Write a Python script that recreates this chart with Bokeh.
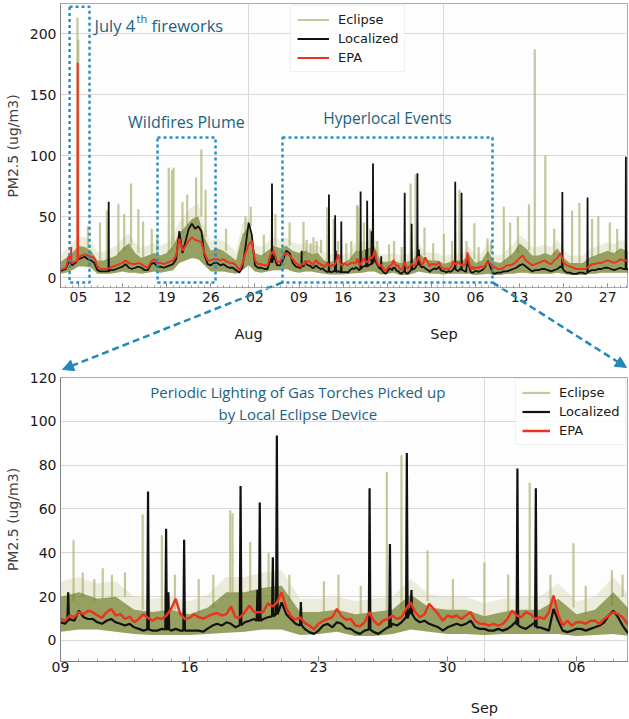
import numpy as np
import pandas as pd
from bokeh.plotting import figure
from bokeh.layouts import column
from bokeh.models import (ColumnDataSource, Range1d, FixedTicker, DatetimeAxis,
                          DatetimeTickFormatter, BoxAnnotation, Label, Arrow,
                          NormalHead, Legend, LegendItem)
from bokeh.embed import file_html
from bokeh.resources import INLINE

# ---------------- data: PM2.5 (ug/m3) ----------------
# EPA and Localized, 12-hourly from 2020-07-02 00:00 to 2020-08-08 12:00
epa_jul = [6, 7, 8, 18, 12, 13, 17, 18, 19, 18, 17, 16, 9, 7, 7, 7, 8, 9, 10, 11,
           12, 14, 12, 11, 11, 12, 11, 9, 8, 13, 15, 12, 12, 11, 12, 13, 14, 18, 32, 22,
           26, 30, 33, 31, 30, 29, 20, 14, 14, 15, 15, 14, 15, 13, 12, 12, 10, 6, 11, 20,
           27, 30, 14, 11, 11, 10, 10, 19, 22, 13, 13, 18, 20, 18, 15, 12]
loc_jul = [5, 6, 7, 14, 10, 12, 15, 16, 17, 15, 14, 12, 6, 5, 5, 5, 6, 6, 7, 8,
           9, 11, 8, 7, 8, 9, 8, 6, 6, 11, 12, 9, 9, 8, 9, 10, 11, 15, 38, 20,
           30, 40, 44, 40, 42, 38, 18, 11, 10, 12, 12, 10, 11, 9, 8, 8, 6, 4, 8, 25,
           45, 35, 10, 8, 8, 7, 7, 16, 18, 10, 10, 15, 22, 20, 12, 9]
# 6-hourly from 2020-08-09 00:00 to 2020-09-08 18:00 (detail window)
epa_aug = [9.8, 9, 11.4, 10.6, 12.9, 12, 13.6, 12.9, 11.4, 10.3, 12.9, 14.4,
           11.4, 12, 9.8, 10.9, 8.3, 9.8, 12, 10.3, 9, 10.3, 9.8, 11.4,
           14.4, 19, 12, 9.8, 10.3, 12, 10.6, 10, 11, 12, 12.5, 11.4,
           12, 15.5, 10.5, 10.6, 12.9, 16, 13, 12.9, 12.9, 17, 15.5, 17.4,
           22, 15, 11, 9.5, 10.6, 8, 6.8, 5, 7.6, 9, 9.8, 10.6,
           14.4, 11, 9.5, 9.8, 6.8, 6.5, 8.3, 12.9, 9, 7, 9, 9.8,
           11.4, 9.8, 10.6, 14.4, 17.4, 12.9, 10.6, 12, 16.7, 14.4, 12, 9,
           11.4, 10.6, 11.4, 9.8, 11.4, 12.9, 9, 7.6, 7.6, 6.8, 7.6, 6.8,
           7.6, 9.8, 13.6, 11.4, 10.6, 12.9, 12, 9.8, 10.6, 9.8, 12.9, 20.5,
           12, 6.8, 9, 6.8, 8.3, 8.3, 7.6, 9, 9, 7.6, 9.8, 11.4,
           12.9, 12, 10.6, 7.6]
loc_aug = [8.3, 7.6, 9.8, 9, 13.6, 10.6, 9.8, 9.8, 8.3, 7.6, 9, 9.8,
           8.3, 7.6, 6.8, 7.6, 6, 5.3, 4.5, 5.3, 4.5, 4.5, 5.3, 6,
           4.5, 5.3, 4.5, 4.5, 4.5, 4.5, 4.5, 4, 5.5, 6.8, 7.6, 6.8,
           8.3, 7.6, 6, 7.6, 8.3, 9, 9.8, 9, 9.8, 10.6, 12.9, 13.6,
           17.4, 12, 9.8, 7.6, 6.8, 5.3, 3.8, 3, 4.5, 6.8, 7.6, 6,
           8.3, 7.6, 5.5, 5.3, 3.8, 3, 4.5, 5, 3.8, 3, 4.5, 6,
           7.6, 6.8, 8.3, 10.6, 15, 9.8, 8.3, 9, 7.6, 6.8, 6, 4.5,
           6, 6.8, 7.6, 6.8, 7.6, 9, 6, 5.3, 5.3, 4.5, 4.5, 5.3,
           4.5, 5.3, 6.8, 9, 6, 5.3, 6.8, 8.3, 6, 5.3, 4.5, 14.4,
           9, 4.5, 3.8, 4.5, 5.3, 5.3, 4.5, 5.3, 6, 6.8, 8.3, 11.4,
           13.6, 10.6, 6.8, 3.8]
# 12-hourly from 2020-09-09 00:00 to 2020-10-01 00:00
epa_sep = [9, 7, 7, 8, 10, 10, 11, 13, 16, 18, 14, 12, 10, 11, 12, 13, 14, 12, 11, 14,
           16, 20, 12, 10, 9, 8, 7, 7, 7, 7, 9, 11, 11, 12, 12, 13, 14, 13, 12, 13,
           15, 14, 14, 13, 13]
loc_sep = [3, 4, 4, 5, 5, 6, 7, 8, 10, 11, 9, 7, 5, 6, 6, 7, 7, 6, 5, 6,
           7, 9, 6, 4, 4, 3, 3, 4, 4, 3, 5, 6, 6, 7, 7, 8, 8, 7, 6, 7,
           8, 7, 7, 6, 6]

# Eclipse network spread, daily from 2020-07-02 to 2020-10-01
ecl_lo = [3, 4, 6, 9, 9, 8, 3, 3, 3, 4, 5, 4, 4, 3, 4, 5, 4, 5, 6, 12, 14, 16, 15, 10, 5, 5, 5, 4, 3, 6,
          10, 5, 4, 5, 6, 6, 7, 5, 4, 5, 5, 4, 3, 2.5, 2.5, 2.5, 3, 3.5, 4, 5, 5, 2.5, 3, 4, 2, 2, 3, 5, 4, 3, 3,
          2.5, 3, 3, 3, 3, 2, 2.5, 3, 2, 2, 3, 3, 4, 4, 3, 3, 3, 3, 4, 3, 2, 2, 2, 3, 3, 4, 4, 4, 4, 4,
          4]
ecl_hi = [12, 16, 20, 26, 25, 22, 14, 14, 16, 18, 24, 28, 20, 16, 18, 20, 18, 20, 26, 36, 42, 48, 50, 33, 22, 24, 22, 18, 14, 35,
          42, 20, 18, 22, 26, 24, 26, 22, 20, 22, 19, 20, 14, 13, 14, 12, 15, 22, 22, 24, 25, 13, 13, 14, 12, 13, 14, 21, 15, 14, 14,
          11, 13, 14, 14, 19, 12, 14, 22, 13, 12, 16, 20, 28, 24, 18, 18, 20, 18, 24, 16, 12, 12, 12, 16, 18, 20, 22, 20, 24, 22,
          20]
ecl_top = [18, 23, 28, 34, 33, 30, 21, 21, 24, 26, 32, 36, 28, 24, 26, 28, 26, 28, 34, 46, 52, 58, 60, 42, 30, 32, 30, 26, 21, 44,
           50, 27, 25, 29, 33, 31, 33, 29, 27, 29, 26, 27, 20, 19, 20, 18, 21, 29, 29, 31, 32, 19, 19, 20, 18, 19, 20, 28, 21, 20, 20,
           17, 19, 20, 20, 26, 18, 20, 29, 19, 18, 23, 27, 35, 31, 25, 25, 27, 25, 31, 23, 18, 18, 18, 23, 25, 27, 29, 27, 31, 29,
           27]

# short events (time, peak, level around it)
loc_spike_time = ["2020-07-09 19:00", "2020-08-04 17:00", "2020-08-09 10:00", "2020-08-13 18:00",
                  "2020-08-14 17:30", "2020-08-14 20:30", "2020-08-15 17:00", "2020-08-18 18:30",
                  "2020-08-19 16:30", "2020-08-19 19:30", "2020-08-20 12:30", "2020-08-20 17:45",
                  "2020-08-22 01:00", "2020-08-25 18:30", "2020-08-26 21:00", "2020-08-27 19:00",
                  "2020-08-28 01:00", "2020-09-02 19:00", "2020-09-03 19:00", "2020-09-19 19:00",
                  "2020-09-23 19:00", "2020-09-29 21:00"]
loc_spike_peak = [62, 77, 22, 68, 51, 22, 46, 70.5, 23, 63, 38, 93.5, 17.5, 69.5, 44, 85.5, 23,
                  78.5, 69.5, 70, 65.5, 99]
loc_spike_base = [5, 12, 9, 5, 5, 5, 4.5, 7, 9, 9, 11, 12, 7, 5, 6, 10, 12, 7, 6, 8, 4, 7]

epa_spike_time = ["2020-07-03 20:00", "2020-07-04 21:00"]
epa_spike_peak = [25, 176]
epa_spike_base = [12, 14]

ecl_spike_time = ["2020-07-04 20:00", "2020-07-04 23:00", "2020-07-06 12:00", "2020-07-08 10:00",
                  "2020-07-09 12:00", "2020-07-11 08:00", "2020-07-12 06:00", "2020-07-13 08:00",
                  "2020-07-14 12:00", "2020-07-15 06:00", "2020-07-16 15:00", "2020-07-17 12:00",
                  "2020-07-19 08:00", "2020-07-19 20:00", "2020-07-20 02:00", "2020-07-21 12:00",
                  "2020-07-22 06:00", "2020-07-23 16:00", "2020-07-24 12:00", "2020-07-25 04:00",
                  "2020-07-28 10:00", "2020-07-31 12:00", "2020-08-01 08:00", "2020-08-03 10:00",
                  "2020-08-05 06:00", "2020-08-07 12:00",
                  "2020-08-09 17:00", "2020-08-10 05:00", "2020-08-10 20:00", "2020-08-11 07:00",
                  "2020-08-11 19:00", "2020-08-12 12:00", "2020-08-13 11:00", "2020-08-14 12:00",
                  "2020-08-15 05:00", "2020-08-16 12:00", "2020-08-17 07:00", "2020-08-18 05:00",
                  "2020-08-18 08:00", "2020-08-19 07:00", "2020-08-20 07:00", "2020-08-21 10:00",
                  "2020-08-23 07:00", "2020-08-24 02:00", "2020-08-25 07:00", "2020-08-26 17:00",
                  "2020-08-27 12:00", "2020-08-28 22:00", "2020-08-30 07:00", "2020-09-01 00:00",
                  "2020-09-02 07:00", "2020-09-03 11:00", "2020-09-04 14:00", "2020-09-05 20:00",
                  "2020-09-06 12:00", "2020-09-07 22:00", "2020-09-08 12:00",
                  "2020-09-10 12:00", "2020-09-11 12:00", "2020-09-12 18:00", "2020-09-14 12:00",
                  "2020-09-15 10:00", "2020-09-17 02:00", "2020-09-18 12:00", "2020-09-21 08:00",
                  "2020-09-22 12:00", "2020-09-24 12:00", "2020-09-25 12:00", "2020-09-27 08:00",
                  "2020-09-28 12:00", "2020-09-30 06:00"]
ecl_spike_peak = [213, 195, 42, 45, 55, 60, 52, 77, 56, 46, 40, 35, 90, 88, 90, 62, 68, 82, 105, 72,
                  40, 50, 58, 35, 52, 45,
                  45.7, 31, 28, 33, 30, 31, 57.5, 48, 30, 28, 30, 59.4, 58, 45, 40, 30, 27, 30, 25,
                  77, 84.5, 41, 28, 35.6, 30, 72, 30, 44.4, 25, 32, 30,
                  58, 45, 50, 60, 187, 100, 40, 55, 61, 48, 50, 45, 40, 42]
ecl_spike_base = [25, 25, 24, 14, 14, 18, 22, 26, 20, 16, 18, 20, 20, 22, 26, 36, 42, 48, 50, 33,
                  22, 35, 42, 18, 26, 26,
                  18, 20, 18, 19, 19, 20, 14, 13, 14, 12, 15, 22, 22, 22, 24, 18, 13, 14, 12,
                  13, 14, 18, 14, 11, 13, 14, 14, 15, 12, 16, 20,
                  12, 16, 20, 22, 18, 20, 18, 12, 12, 16, 18, 22, 20, 22]

# axis ticks
top_day_ticks = ["2020-07-05", "2020-07-12", "2020-07-19", "2020-07-26", "2020-08-02",
                 "2020-08-09", "2020-08-16", "2020-08-23", "2020-08-30", "2020-09-06",
                 "2020-09-13", "2020-09-20", "2020-09-27"]
top_month_ticks = ["2020-08-01", "2020-09-01"]
bot_day_ticks = ["2020-08-09", "2020-08-16", "2020-08-23", "2020-08-30", "2020-09-06"]
bot_month_ticks = ["2020-09-01"]
top_y_ticks = [0, 50, 100, 150, 200]
bot_y_ticks = [0, 20, 40, 60, 80, 100, 120]

# ---------------- helpers ----------------
def ms(s):
    return pd.Timestamp(s).value / 1e6


def ms_list(seq):
    return list(pd.DatetimeIndex(pd.to_datetime(seq)).asi8 / 1e6)


t_jul = pd.date_range("2020-07-02", periods=len(epa_jul), freq="12h")
t_aug = pd.date_range("2020-08-09", periods=len(epa_aug), freq="6h")
t_sep = pd.date_range("2020-09-09", periods=len(epa_sep), freq="12h")
t_all = np.concatenate([t_jul.asi8, t_aug.asi8, t_sep.asi8]) / 1e6
t_day = pd.date_range("2020-07-02", periods=len(ecl_lo), freq="D").asi8 / 1e6


def with_spikes(t, vals, sp_t, sp_pk, sp_b, half_hours):
    t = np.asarray(t, float)
    v = np.asarray(vals, float)
    st = np.asarray(ms_list(sp_t))
    w = half_hours * 3600e3
    keep = np.ones(len(t), bool)
    for s in st:
        keep &= np.abs(t - s) >= w
    xs = list(t[keep])
    ys = list(v[keep])
    for s, pk, b in zip(st, sp_pk, sp_b):
        xs += [s - w, s, s + w]
        ys += [b, pk, b]
    o = np.argsort(np.asarray(xs), kind="stable")
    return np.asarray(xs)[o], np.asarray(ys)[o]


ex, ey = with_spikes(t_all, epa_jul + epa_aug + epa_sep, epa_spike_time, epa_spike_peak, epa_spike_base, 1.0)
lx, ly = with_spikes(t_all, loc_jul + loc_aug + loc_sep, loc_spike_time, loc_spike_peak, loc_spike_base, 1.0)
src_epa = ColumnDataSource(dict(x=ex, y=ey))
src_loc = ColumnDataSource(dict(x=lx, y=ly))
src_band = ColumnDataSource(dict(x=t_day, lo=ecl_lo, hi=ecl_hi, top=ecl_top))
src_espk = ColumnDataSource(dict(x=ms_list(ecl_spike_time), y0=ecl_spike_base, y1=ecl_spike_peak))

# ---------------- layout (page pixels, origin at 0,0) ----------------
W = 628
BL = 60
TOP_H = 288          # frame 3 .. 288
MID_H = 83           # 288 .. 371 : tick labels of the top panel + connecting arrows
BOT_H = 347          # 371 .. 718 : frame 377 .. 661
TOP_Y0, TOP_Y1 = 3, 288
MID_Y0, MID_Y1 = TOP_H, TOP_H + MID_H
BOT_Y0, BOT_Y1 = MID_Y1 + 6, 661
FX0, FX1 = BL, W

TXT = "#1b6282"
BOXC = "#2a8fc2"
ARRC = "#2288b8"
RED = "#eb3420"
BLK = "#111111"
TICKFONT = "DejaVu Sans"


def fmt(f):
    return DatetimeTickFormatter(microseconds=f, milliseconds=f, seconds=f, minsec=f,
                                 minutes=f, hourmin=f, hours=f, days=f, months=f, years=f)


def style_labels(ax, size="14px"):
    ax.major_label_text_font = TICKFONT
    ax.major_label_text_font_size = size
    ax.major_label_text_color = "#1a1a1a"


def daily(xr):
    return list(pd.date_range(pd.Timestamp(xr.start * 1e6).ceil("D"),
                              pd.Timestamp(xr.end * 1e6), freq="D").asi8 / 1e6)


def make_panel(h, bt, bb, xr, yr, day_ticks, month_ticks, yticks):
    p = figure(width=W, height=h, x_axis_type="datetime", x_range=xr, y_range=yr,
               output_backend="svg", toolbar_location=None,
               min_border_left=BL, min_border_right=0, min_border_top=bt, min_border_bottom=bb)
    p.background_fill_color = "#fdfdfd"
    p.border_fill_color = "white"
    p.outline_line_color = "#aaaaaa"
    xa = p.xaxis[0]
    xa.ticker = FixedTicker(ticks=ms_list(day_ticks), minor_ticks=daily(xr))
    xa.formatter = fmt("%d")
    xa.major_tick_in, xa.major_tick_out = 5, 0
    xa.minor_tick_in, xa.minor_tick_out = 3, 0
    xa.axis_line_color = "#808080"
    xa.major_tick_line_color = "#808080"
    xa.minor_tick_line_color = "#9a9a9a"
    style_labels(xa)
    ya = p.yaxis[0]
    ya.ticker = FixedTicker(ticks=yticks)
    ya.major_tick_in, ya.major_tick_out = 0, 0
    ya.minor_tick_line_color = None
    ya.major_label_standoff = 4
    ya.axis_line_color = "#808080"
    ya.axis_label = "PM2.5 (ug/m3)"
    ya.axis_label_text_font = TICKFONT
    ya.axis_label_text_font_size = "14px"
    ya.axis_label_text_font_style = "normal"
    ya.axis_label_standoff = 6
    style_labels(ya)
    p.xgrid[0].ticker = FixedTicker(ticks=ms_list(month_ticks))
    p.ygrid[0].ticker = FixedTicker(ticks=yticks)
    for g in (p.xgrid[0], p.ygrid[0]):
        g.grid_line_color = "#dcd8d8"
        g.grid_line_width = 1
    return p


def month_axis(month_ticks, standoff, fixed=None):
    ma = DatetimeAxis(ticker=FixedTicker(ticks=ms_list(month_ticks), minor_ticks=[]),
                      formatter=fmt("%b"), fixed_location=fixed)
    ma.axis_line_color = None
    ma.major_tick_line_color = None
    ma.minor_tick_line_color = None
    ma.major_label_standoff = standoff
    style_labels(ma, "14.5px")
    return ma


def draw_series(p, lw_loc, lw_epa):
    p.varea(x="x", y1="lo", y2="top", source=src_band, fill_color="#bcc283", fill_alpha=0.27)
    r_e = p.segment(x0="x", y0="y0", x1="x", y1="y1", source=src_espk, line_color="#b0b67a",
                    line_alpha=0.75, line_width=2.2)
    p.varea(x="x", y1="lo", y2="hi", source=src_band, fill_color="#6a7a22", fill_alpha=0.66)
    r_l = p.line(x="x", y="y", source=src_loc, line_color=BLK, line_width=lw_loc)
    r_r = p.line(x="x", y="y", source=src_epa, line_color=RED, line_width=lw_epa)
    return [r_e, r_l, r_r]


def add_legend(p, rs, location, glyph_w):
    leg = Legend(items=[LegendItem(label="Eclipse", renderers=[rs[0]]),
                        LegendItem(label="Localized", renderers=[rs[1]]),
                        LegendItem(label="EPA", renderers=[rs[2]])],
                 location=location)
    leg.label_text_font = TICKFONT
    leg.label_text_font_size = "13px"
    leg.label_text_color = "#1a1a1a"
    leg.glyph_width = glyph_w
    leg.glyph_height = 15
    leg.spacing = 4
    leg.padding = 6
    leg.margin = 0
    leg.label_standoff = 9
    leg.border_line_color = "#e2e2e2"
    leg.background_fill_alpha = 0.85
    p.add_layout(leg)


def lab(p, x, y, text, size, align="left", baseline="alphabetic", xo=0, yo=0):
    p.add_layout(Label(x=ms(x), y=y, text=text, text_font="Open Sans", text_font_size=size,
                       text_color=TXT, text_align=align, text_baseline=baseline,
                       x_offset=xo, y_offset=yo))


# ---------------- top panel ----------------
top_xr = Range1d(ms("2020-07-02 03:25"), ms("2020-09-30 07:00"))
top_yr = Range1d(-9.0, 224.6)
top = make_panel(TOP_H, TOP_Y0, 0, top_xr, top_yr, top_day_ticks, top_month_ticks, top_y_ticks)
txa = top.xaxis[0]
txa.fixed_location = top_yr.start            # ticks only here; labels are drawn in the strip below
txa.major_label_overrides = {t: "" for t in ms_list(top_day_ticks)}
rs = draw_series(top, 1.8, 2.0)
add_legend(top, rs, (230, 216), 32)

boxes = {
    "fire": ("2020-07-03 14:00", "2020-07-06 18:00", -4, 222),
    "wild": ("2020-07-17 13:00", "2020-07-26 18:00", -4, 114.8),
    "hyper": ("2020-08-06 09:00", "2020-09-08 17:00", -4, 114.8),
}
for l, r, b, t in boxes.values():
    top.add_layout(BoxAnnotation(left=ms(l), right=ms(r), bottom=b, top=t,
                                 fill_alpha=0, line_alpha=1.0,
                                 line_color=BOXC, line_width=2.5, line_dash="3 3"))

lab(top, "2020-07-07 13:00", 206.5, "July 4", "16.5px")
lab(top, "2020-07-07 13:00", 206.5, "th", "11px", xo=42, yo=7)
lab(top, "2020-07-07 13:00", 206.5, "fireworks", "16.5px", xo=57)
lab(top, "2020-07-22 03:00", 127.5, "Wildfires Plume", "16px", align="center", baseline="middle")
lab(top, "2020-08-23 01:00", 131, "Hyperlocal Events", "15.5px", align="center", baseline="middle")

# ---------------- strip between the panels (same x scale as the top panel) ----------------
ms_per_px = (top_xr.end - top_xr.start) / (FX1 - FX0)
mid_yr = Range1d(MID_Y1, MID_Y0)              # page pixels, growing downwards
mid = figure(width=W, height=MID_H, x_range=top_xr, y_range=mid_yr,
             output_backend="svg", toolbar_location=None,
             x_axis_location=None, y_axis_location=None,
             min_border_left=BL, min_border_right=0, min_border_top=0, min_border_bottom=0)
mid.background_fill_color = "white"
mid.border_fill_color = "white"
mid.outline_line_color = None
mid.xgrid.visible = False
mid.ygrid.visible = False
da = DatetimeAxis(ticker=FixedTicker(ticks=ms_list(top_day_ticks), minor_ticks=[]),
                  formatter=fmt("%d"), fixed_location=MID_Y0)
da.axis_line_color = None
da.major_tick_line_color = None
da.minor_tick_line_color = None
da.major_label_standoff = -3
style_labels(da)
mid.add_layout(da, "below")
mid.add_layout(month_axis(top_month_ticks, 31, fixed=MID_Y0), "below")

# ---------------- bottom panel ----------------
bot_xr = Range1d(ms("2020-08-09 00:00"), ms("2020-09-08 19:40"))
bot_yr = Range1d(-9.6, 120)
bot = make_panel(BOT_H, BOT_Y0 - MID_Y1, BOT_H - (BOT_Y1 - MID_Y1), bot_xr, bot_yr,
                 bot_day_ticks, bot_month_ticks, bot_y_ticks)
bot.xaxis[0].major_label_standoff = 0
bot.add_layout(month_axis(bot_month_ticks, 19), "below")
rs2 = draw_series(bot, 2.2, 2.5)
add_legend(bot, rs2, (455, 216), 28)
lab(bot, "2020-08-21 21:00", 113.2, "Periodic Lighting of Gas Torches Picked up", "15px",
    align="center", baseline="middle")
lab(bot, "2020-08-21 21:00", 103.2, "by Local Eclipse Device", "15px", align="center", baseline="middle")


# ---------------- connecting dashed arrows ----------------
def top_to_page(x_ms, y):
    px = FX0 + (x_ms - top_xr.start) / ms_per_px
    py = TOP_Y1 - (y - top_yr.start) / (top_yr.end - top_yr.start) * (TOP_Y1 - TOP_Y0)
    return px, py


def page_to_top(px, py):
    return (top_xr.start + (px - FX0) * ms_per_px,
            top_yr.start + (TOP_Y1 - py) / (TOP_Y1 - TOP_Y0) * (top_yr.end - top_yr.start))


def page_to_mid(px, py):
    return top_xr.start + (px - FX0) * ms_per_px, py


hl, hr, hb, _ = boxes["hyper"]
starts = [top_to_page(ms(hl), hb), top_to_page(ms(hr), hb)]
ends = [(FX0 + 2, MID_Y1 - 2), (FX1 - 2, MID_Y1 - 4)]
for (sx, sy), (qx, qy) in zip(starts, ends):
    # piece inside the upper panel (clipped to its frame)
    x0, y0 = page_to_top(sx, sy)
    x1, y1 = page_to_top(qx, qy)
    top.add_layout(Arrow(x_start=x0, y_start=y0, x_end=x1, y_end=y1, end=None,
                         line_color=ARRC, line_width=2.5, line_dash="7 4"))
    # piece in the strip, with the head
    x0, y0 = page_to_mid(sx, sy)
    x1, y1 = page_to_mid(qx, qy)
    mid.add_layout(Arrow(x_start=x0, y_start=y0, x_end=x1, y_end=y1,
                         line_color=ARRC, line_width=2.5, line_dash="7 4",
                         end=NormalHead(size=11, fill_color=ARRC, line_color=ARRC)))

layout = column(top, mid, bot, spacing=0)
open("out.html", "w").write(file_html(layout, INLINE))
